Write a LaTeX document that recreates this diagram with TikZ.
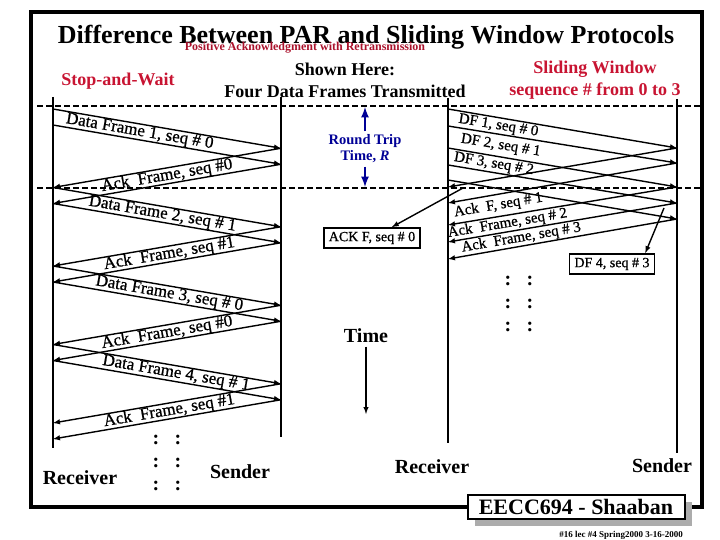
\documentclass[tikz,border=0pt]{standalone}
\usepackage{fontspec}
\setmainfont{Liberation Serif}
\newfontfamily\bandfont[FakeBold=0.8]{Liberation Serif}
\usepackage{xcolor}
\usepackage{tikz}
\usetikzlibrary{arrows,positioning,calc,shadows}
\definecolor{pared}{RGB}{200,20,50}
\definecolor{rttblue}{RGB}{0,0,150}

\begin{document}
\begin{tikzpicture}[x=1pt, y=-1pt,
    timeline/.style={line width=2.2pt},
    frameline/.style={line width=1.4pt, -latex},
    divider/.style={line width=1.6pt, dash pattern=on 6pt off 3pt},
    bandtext/.style={font=\fontsize{17}{17}\bandfont, sloped, inner sep=0pt},
    swtext/.style={font=\fontsize{15}{15}\bandfont, sloped, inner sep=0pt},
    callout/.style={draw, line width=1.4pt, fill=white, font=\fontsize{14}{14}\bandfont, inner xsep=5pt, inner ysep=4pt},
    heading/.style={font=\fontsize{18}{22}\selectfont\bfseries, align=center},
    endlabel/.style={font=\fontsize{20}{20}\selectfont\bfseries},
    dots/.style={font=\fontsize{20}{20}\selectfont\bfseries, inner sep=0pt}]
  \useasboundingbox (0,0) rectangle (720,540);
  \draw[line width=3.5pt] (31,12) rectangle (702,507);

  % headings
  \node[font=\fontsize{26}{26}\selectfont\bfseries] (title) at (366,37) {Difference Between PAR and Sliding Window Protocols};
  \node[font=\fontsize{12}{12}\selectfont\bfseries, text=pared!85!black] (par) at (305,48) {Positive Acknowledgment with Retransmission};
  \node[heading, text=pared] (saw) at (118,81) {Stop-and-Wait};
  \node[heading] (shown) at (345,80) {Shown Here:\\Four Data Frames Transmitted};
  \node[heading, text=pared] (slw) at (595,80) {Sliding Window\\sequence \# from 0 to 3};

  % time lines
  \draw[timeline] (53,97) -- (53,448);
  \draw[timeline] (281,97) -- (281,437);
  \draw[timeline] (448,98) -- (448,443);
  \draw[timeline] (677,99) -- (677,453);
  \draw[divider] (37,106) -- (700,106);
  \draw[divider] (37,188) -- (700,188);

  % stop-and-wait
  \foreach \k in {0,...,8} {
    \coordinate (wl\k) at (53,109+39.25*\k);
    \coordinate (wlb\k) at (53,125+39.25*\k);
    \coordinate (wr\k) at (281,109+39.25*\k);
    \coordinate (wrb\k) at (281,125+39.25*\k);
  }
  \foreach \i/\j in {0/1,2/3,4/5,6/7} {
    \draw[frameline] (wl\i) -- (wr\j);
    \draw[frameline] (wlb\i) -- (wrb\j);
  }
  \foreach \i/\j in {1/2,3/4,5/6,7/8} {
    \draw[frameline] (wr\i) -- (wl\j);
    \draw[frameline] (wrb\i) -- (wlb\j);
  }
  \path ($(wl0)!.5!(wlb0)$) -- ($(wr1)!.5!(wrb1)$) node[bandtext, pos=.38] (data1) {Data Frame 1, seq \# 0};
  \path ($(wr1)!.5!(wrb1)$) -- ($(wl2)!.5!(wlb2)$) node[bandtext, pos=.5] (ack1) {Ack\ \ Frame, seq \#0};
  \path ($(wl2)!.5!(wlb2)$) -- ($(wr3)!.5!(wrb3)$) node[bandtext, pos=.48] (data2) {Data Frame 2, seq \# 1};
  \path ($(wr3)!.5!(wrb3)$) -- ($(wl4)!.5!(wlb4)$) node[bandtext, pos=.49] (ack2) {Ack\ \ Frame, seq \#1};
  \path ($(wl4)!.5!(wlb4)$) -- ($(wr5)!.5!(wrb5)$) node[bandtext, pos=.51] (data3) {Data Frame 3, seq \# 0};
  \path ($(wr5)!.5!(wrb5)$) -- ($(wl6)!.5!(wlb6)$) node[bandtext, pos=.5] (ack3) {Ack\ \ Frame, seq \#0};
  \path ($(wl6)!.5!(wlb6)$) -- ($(wr7)!.5!(wrb7)$) node[bandtext, pos=.54] (data4) {Data Frame 4, seq \# 1};
  \path ($(wr7)!.5!(wrb7)$) -- ($(wl8)!.5!(wlb8)$) node[bandtext, pos=.49] (ack4) {Ack\ \ Frame, seq \#1};

  % round trip time
  \node[font=\fontsize{14.5}{16}\selectfont\bfseries, text=rttblue, align=center] (rtt) at (365,149) {Round Trip\\Time, \textit{R}};
  \coordinate (rtttop) at (365,107);
  \coordinate (rttbot) at (365,187);
  \draw[-latex, line width=2.5pt, rttblue] (rtt.north) -- (rtttop);
  \draw[-latex, line width=2.5pt, rttblue] (rtt.south) -- (rttbot);

  % sliding window
  \foreach \n/\yl/\yr in {1/109/148, 2/126/163, 3/148/187, 4/165/203, 5/180/219}
    \coordinate (dl\n) at (448,\yl) coordinate (dr\n) at (677,\yr);
  \foreach \n/\y in {1/187, 2/203, 3/225, 4/242, 5/259}
    \coordinate (al\n) at (448,\y);
  \foreach \n in {1,...,5} {
    \draw[frameline] (dl\n) -- (dr\n);
    \draw[frameline] (dr\n) -- (al\n);
  }
  \path ($(dl1)!.5!(dl2)$) -- ($(dr1)!.5!(dr2)$) node[swtext, pos=.22] (df1) {DF 1, seq \# 0};
  \path ($(dl2)!.5!(dl3)$) -- ($(dr2)!.5!(dr3)$) node[swtext, pos=.23] (df2) {DF 2, seq \# 1};
  \path ($(dl3)!.5!(dl4)$) -- ($(dr3)!.5!(dr4)$) node[swtext, pos=.2] (df3) {DF 3, seq \# 2};
  \path ($(dr2)!.5!(dr3)$) -- ($(al2)!.5!(al3)$) node[swtext, pos=.78] (ackf1) {Ack\ \ F, seq \# 1};
  \path ($(dr3)!.5!(dr4)$) -- ($(al3)!.5!(al4)$) node[swtext, pos=.74] (ackf2) {Ack\ \ Frame, seq \# 2};
  \path ($(dr4)!.5!(dr5)$) -- ($(al4)!.5!(al5)$) node[swtext, pos=.68] (ackf3) {Ack\ \ Frame, seq \# 3};

  \node[callout] (ack0) at (372,238) {ACK F, seq \# 0};
  \coordinate (ack0pt) at (463,188);
  \draw[-latex, line width=1.4pt] (ack0pt) -- (ack0);
  \node[callout] (df4) at (612,264) {DF 4, seq \# 3};
  \coordinate (df4pt) at (664,208);
  \draw[-latex, line width=1.4pt] (df4pt) -- ($(df4.north east)+(-10,0)$);

  % time axis
  \node[endlabel] (time) at (366,336) {Time};
  \coordinate (timeend) at (366,414);
  \draw[-latex, line width=1.4pt] (time.south) -- (timeend);

  % continuation dots
  \foreach \y in {440,463,486} {
    \node[dots] (ldota\y) at (156,\y) {:};
    \node[dots] (ldotb\y) at (178,\y) {:};
  }
  \foreach \y in {281,304,327} {
    \node[dots] (rdota\y) at (508,\y) {:};
    \node[dots] (rdotb\y) at (530,\y) {:};
  }

  % end labels
  \node[endlabel] (recvL) at (80,478) {Receiver};
  \node[endlabel] (sendL) at (240,472) {Sender};
  \node[endlabel] (recvR) at (432,467) {Receiver};
  \node[endlabel] (sendR) at (662,466) {Sender};

  % footer
  \node[draw, line width=2pt, fill=white, minimum width=217pt, minimum height=24pt,
        font=\fontsize{22}{22}\selectfont\bfseries,
        drop shadow={shadow xshift=7pt, shadow yshift=-7pt, fill=gray!65, opacity=1}] (eecc) at (576,507) {EECC694 - Shaaban};
  \node[font=\fontsize{9}{9}\selectfont\bfseries] (foot) at (621,535) {\#16 lec \#4 Spring2000 3-16-2000};
\end{tikzpicture}
\end{document}
